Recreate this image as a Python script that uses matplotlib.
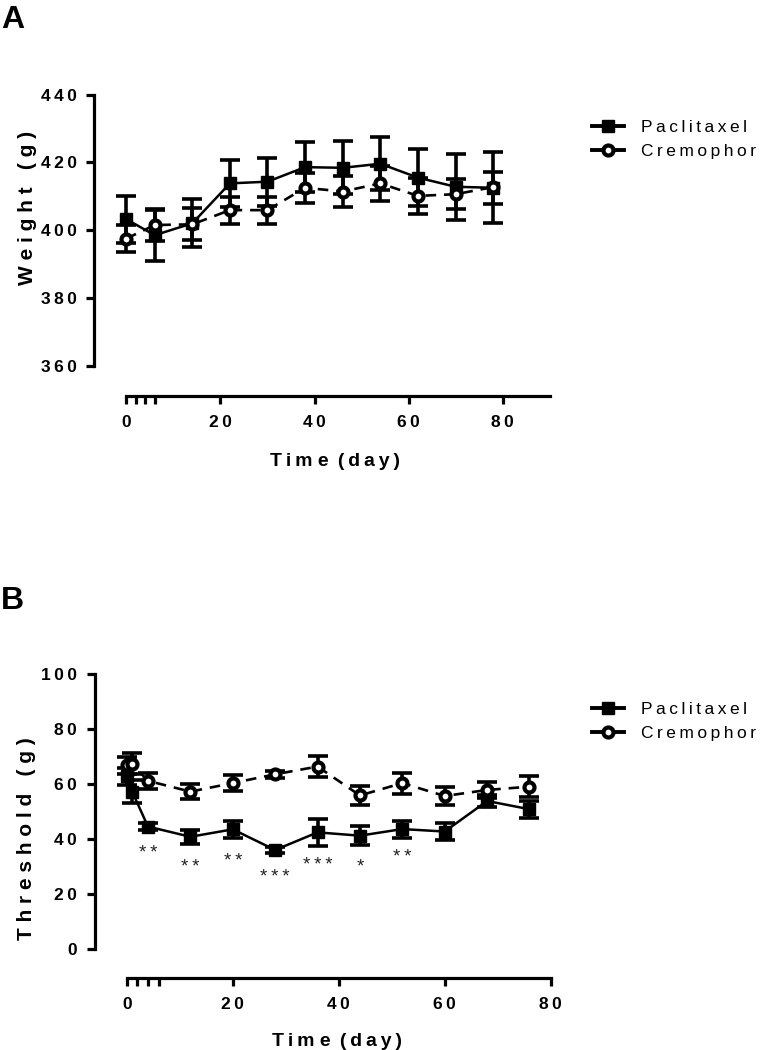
import matplotlib
matplotlib.use('Agg')
import matplotlib.pyplot as plt
from matplotlib.lines import Line2D
from matplotlib.font_manager import FontProperties

# ---------------- data ----------------
days_a = [0, 6, 14, 22, 30, 38, 46, 54, 62, 70, 78]
pac_weight = [403.2, 398.5, 402.0, 413.8, 414.3, 418.6, 418.4, 419.6, 415.5, 412.8, 412.5]
pac_weight_err = [7.0, 7.5, 7.1, 6.9, 7.1, 7.4, 7.8, 7.9, 8.5, 9.8, 4.8]
crem_weight = [397.5, 401.5, 401.7, 405.9, 405.9, 412.5, 411.4, 413.8, 410.1, 410.6, 412.7]
crem_weight_err = [4.1, 4.6, 4.7, 4.0, 4.0, 4.4, 4.5, 5.2, 5.2, 4.5, 10.5]

days_b = [0, 1, 4, 12, 20, 28, 36, 44, 52, 60, 68, 76]
pac_thr = [62.8, 57.3, 44.6, 40.9, 43.6, 36.1, 42.5, 41.3, 43.7, 42.8, 53.9, 50.9]
pac_thr_err = [3.0, 4.3, 1.2, 2.6, 3.1, 1.2, 5.0, 3.4, 3.1, 3.1, 2.1, 3.0]
crem_thr = [66.8, 67.4, 61.2, 57.3, 60.4, 63.6, 66.4, 55.9, 60.4, 55.7, 57.9, 59.1]
crem_thr_err = [3.2, 3.8, 2.9, 2.6, 3.0, 1.2, 3.8, 3.5, 3.8, 3.4, 3.0, 3.8]

sig_days = [4, 12, 20, 28, 36, 44, 52]
sig_labels = ['**', '**', '**', '***', '***', '*', '**']
sig_y = [34.9, 29.7, 32.1, 26.0, 30.4, 30.0, 33.5]

yticks_a = [360, 380, 400, 420, 440]
yticks_b = [0, 20, 40, 60, 80, 100]
xticks_major = [0, 20, 40, 60, 80]
xticks_minor = [2, 4, 6]

series_names = ['Paclitaxel', 'Cremophor']

# ---------------- style ----------------
FAM = ['Liberation Sans', 'DejaVu Sans']
plt.rcParams['font.family'] = FAM
TS = '\u2009'


def sp(s):
    return TS.join(s)


W, H = 765, 1050
fig = plt.figure(figsize=(W / 100, H / 100), dpi=100)


def fx(px):
    return px / W


def fy(py):
    return 1 - py / H


SPW = 2.3
MS_SQ = 8.3
MS_CI = 7.2
MEW_CI = 3.0


def style_axes(ax, xlim, ylim, ybounds, yticks, xbounds):
    ax.set_xlim(*xlim)
    ax.set_ylim(*ylim)
    for s in ['top', 'right']:
        ax.spines[s].set_visible(False)
    ax.spines['left'].set_bounds(*ybounds)
    ax.spines['bottom'].set_bounds(*xbounds)
    for s in ['left', 'bottom']:
        ax.spines[s].set_linewidth(SPW)
        ax.spines[s].set_capstyle('projecting')
    ax.set_yticks(yticks)
    ax.set_yticklabels([sp(str(v)) for v in yticks])
    ax.set_xticks(xticks_major)
    ax.set_xticklabels([sp(str(v)) for v in xticks_major])
    ax.set_xticks(xticks_minor, minor=True)
    ax.tick_params(which='both', direction='out', length=5.5, width=SPW, color='k')
    ax.tick_params(axis='y', pad=7)
    ax.tick_params(axis='x', pad=8)
    for lab in ax.get_xticklabels() + ax.get_yticklabels():
        lab.set_fontsize(12.5)
        lab.set_fontweight('bold')
    ax.patch.set_visible(False)


def draw_series(ax, x, pac, pac_err, crem, crem_err):
    ax.errorbar(x, pac, yerr=pac_err, fmt='none', ecolor='k', elinewidth=2.6,
                capsize=7, capthick=2.6, zorder=2, clip_on=False)
    ax.plot(x, pac, '-', color='k', lw=1.8, zorder=3, clip_on=False)
    ax.plot(x, pac, ls='none', marker='s', ms=MS_SQ, color='k', zorder=4, clip_on=False)
    ax.errorbar(x, crem, yerr=crem_err, fmt='none', ecolor='k', elinewidth=2.6,
                capsize=7, capthick=2.6, zorder=5, clip_on=False)
    ax.plot(x, crem, color='k', lw=1.9, dashes=(4, 3), zorder=6, clip_on=False)
    ax.plot(x, crem, ls='none', marker='o', ms=MS_CI, mfc='white', mec='k', mew=MEW_CI,
            zorder=7, clip_on=False)


def add_legend(ax, top_px):
    handles = [
        Line2D([], [], color='k', lw=2.8, marker='s', ms=MS_SQ),
        Line2D([], [], color='k', lw=2.8, marker='o', ms=MS_CI, mfc='white', mec='k', mew=MEW_CI),
    ]
    ax.legend(handles, [sp(n) for n in series_names], loc='upper left',
              bbox_to_anchor=(fx(592), fy(top_px)), bbox_transform=fig.transFigure,
              frameon=False, borderpad=0, borderaxespad=0, handlelength=1.85,
              handletextpad=1.0, labelspacing=0.52,
              prop=FontProperties(family=FAM, size=12.5))


XLAB = 'T' + TS + 'i' + TS + 'm ' + 'e ' + TS + '(' + TS + 'd' + TS + 'a' + TS + 'y' + TS + ')'

# ---------------- Panel A ----------------
axA = fig.add_axes([fx(94), fy(396), (550 - 94) / W, (396 - 94) / H])
style_axes(axA, (-6.91, 90.1), (351.0, 440.2), (360, 440), yticks_a, (0, 90))
draw_series(axA, days_a, pac_weight, pac_weight_err, crem_weight, crem_weight_err)
add_legend(axA, 120)

fig.text(fx(28), fy(207.5), 'W e i g h t   ( g )', rotation=90, ha='center', va='center',
         fontsize=15, fontweight='bold')
fig.text(fx(335), fy(465.7), XLAB, ha='center', va='baseline', fontsize=14, fontweight='bold')
fig.text(fx(1), fy(28), 'A', ha='left', va='baseline', fontsize=23, fontweight='bold')

# ---------------- Panel B ----------------
axB = fig.add_axes([fx(94.5), fy(978.3), (551 - 94.5) / W, (978.3 - 673.5) / H])
style_axes(axB, (-6.1, 80.06), (-10.5, 100.2), (0, 100), yticks_b, (0, 80))
draw_series(axB, days_b, pac_thr, pac_thr_err, crem_thr, crem_thr_err)
for d, lab, yv in zip(sig_days, sig_labels, sig_y):
    axB.text(d, yv, sp(lab), ha='center', va='center', fontsize=13.5, color='#222222')
add_legend(axB, 702)

fig.text(fx(27), fy(839), 'T h r e s h o l d   ( g )', rotation=90, ha='center', va='center',
         fontsize=15, fontweight='bold')
fig.text(fx(337.5), fy(1045.7), XLAB, ha='center', va='baseline', fontsize=14, fontweight='bold')
fig.text(fx(1), fy(609.3), 'B', ha='left', va='baseline', fontsize=23, fontweight='bold')

fig.savefig('out.png', dpi=100)
